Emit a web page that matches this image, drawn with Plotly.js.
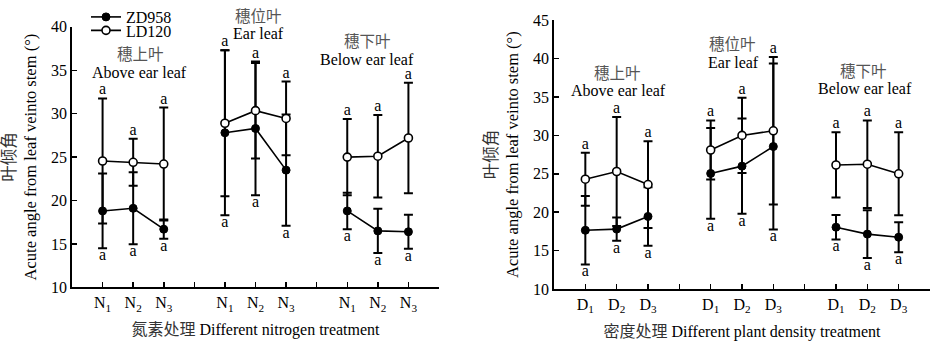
<!DOCTYPE html>
<html><head><meta charset="utf-8">
<script src="https://cdn.plot.ly/plotly-3.0.1.min.js"></script>
<style>body{margin:0;background:#fff}#chart{width:938px;height:346px}</style>
</head><body><div id="chart"></div>
<script>
// ---- data ----
const groupsCN = ["穗上叶", "穗位叶", "穗下叶"];
const groupsEN = ["Above ear leaf", "Ear leaf", "Below ear leaf"];
const nLabels = ["N<sub>1</sub>", "N<sub>2</sub>", "N<sub>3</sub>"];
const dLabels = ["D<sub>1</sub>", "D<sub>2</sub>", "D<sub>3</sub>"];
const seriesNames = ["ZD958", "LD120"];

// nitrogen panel (groups x treatments N1..N3)
const nZD958 = [18.8, 19.1, 16.7, 27.8, 28.3, 23.5, 18.8, 16.5, 16.4];
const nZD958Err = [4.3, 4.15, 1.1, 9.5, 7.7, 6.4, 2.1, 2.55, 1.95];
const nLD120 = [24.55, 24.4, 24.2, 28.9, 30.35, 29.45, 25.0, 25.1, 27.2];
const nLD120Err = [7.2, 2.7, 6.5, 8.4, 5.5, 4.25, 4.4, 4.75, 6.35];
const nLetters = ["a", "a", "a", "a", "a", "a", "a", "a", "a"];
const nLettersLow = ["a", "a", "a", "a", "a", "a", "a", "a", "a"];

// density panel (groups x treatments D1..D3)
const dZD958 = [17.65, 17.8, 19.45, 25.05, 26.0, 28.55, 18.05, 17.15, 16.75];
const dZD958Err = [4.45, 1.5, 3.8, 5.9, 6.2, 10.8, 1.6, 3.1, 1.95];
const dLD120 = [24.3, 25.3, 23.6, 28.1, 30.0, 30.6, 26.15, 26.25, 25.0];
const dLD120Err = [3.45, 7.1, 5.65, 3.85, 4.9, 9.6, 4.25, 5.7, 5.4];
const dLetters = ["a", "a", "a", "a", "a", "a", "a", "a", "a"];
const dLettersLow = ["a", "a", "a", "a", "a", "a", "a", "a", "a"];

// ---- helpers ----
const W = 938, H = 346;
const FONT = "Liberation Serif, 'Times New Roman', 'Noto Sans CJK SC', serif";
const px = v => v / W, py = v => 1 - v / H;
const pos = i => Math.floor(i / 3) * 4 + (i % 3) + 1;   // category slot on axis
const xs = nZD958.map((_, i) => pos(i));
function withGaps(arr) {
  const X = [], Y = [];
  arr.forEach((v, i) => { if (i > 0 && i % 3 === 0) { X.push(null); Y.push(null); } X.push(pos(i)); Y.push(v); });
  return {X, Y};
}
function tickTexts(labels) {
  const t = [];
  for (let k = 1; k <= 12; k++) { const r = k % 4; t.push(r === 0 ? "" : labels[r - 1]); }
  return t;
}

const traces = [];
function panel(xa, ya, zd, zdE, ld, ldE, lettersTop, lettersLow, legendOn) {
  [[zd, zdE], [ld, ldE]].forEach(([m, e]) => {
    traces.push({x: xs, y: m, xaxis: xa, yaxis: ya, type: "scatter", mode: "markers",
      marker: {size: 1, color: "rgba(0,0,0,0)"}, showlegend: false, hoverinfo: "skip",
      error_y: {type: "data", array: e, visible: true, color: "#000", thickness: 2, width: 4.5}});
  });
  const g1 = withGaps(zd), g2 = withGaps(ld);
  traces.push({x: g1.X, y: g1.Y, xaxis: xa, yaxis: ya, type: "scatter", mode: "lines+markers",
    name: seriesNames[0], showlegend: legendOn, legend: "legend",
    line: {color: "#000", width: 1.6}, marker: {size: 8, color: "#000", line: {color: "#000", width: 1}}});
  traces.push({x: g2.X, y: g2.Y, xaxis: xa, yaxis: ya, type: "scatter", mode: "lines+markers",
    name: seriesNames[1], showlegend: legendOn, legend: "legend2",
    line: {color: "#000", width: 1.6}, marker: {size: 8, color: "#fff", line: {color: "#000", width: 1.6}}});
  const top = zd.map((v, i) => Math.max(v + zdE[i], ld[i] + ldE[i]));
  const low = zd.map((v, i) => Math.min(v - zdE[i], ld[i] - ldE[i]));
  traces.push({x: xs, y: top, xaxis: xa, yaxis: ya, type: "scatter", mode: "text", text: lettersTop,
    textposition: "top center", textfont: {family: FONT, size: 16, color: "#000"}, showlegend: false, hoverinfo: "skip"});
  traces.push({x: xs, y: low, xaxis: xa, yaxis: ya, type: "scatter", mode: "text", text: lettersLow,
    textposition: "bottom center", textfont: {family: FONT, size: 16, color: "#000"}, showlegend: false, hoverinfo: "skip"});
}
panel("x", "y", nZD958, nZD958Err, nLD120, nLD120Err, nLetters, nLettersLow, true);
panel("x2", "y2", dZD958, dZD958Err, dLD120, dLD120Err, dLetters, dLettersLow, false);

const tickvals = Array.from({length: 12}, (_, k) => k + 1);
const axBase = {showline: true, linecolor: "#000", linewidth: 1.8, ticks: "inside", ticklen: 5,
  tickwidth: 1.5, tickcolor: "#000", showgrid: false, zeroline: false,
  tickfont: {family: FONT, size: 16, color: "#000"}};

const ytitle = "<span style='color:#333'>叶倾角</span><br>Acute angle from leaf veinto stem (°)";
const layout = {
  width: W, height: H, margin: {l: 0, r: 0, t: 0, b: 0},
  paper_bgcolor: "#fff", plot_bgcolor: "rgba(0,0,0,0)",
  font: {family: FONT, size: 16, color: "#000"},
  xaxis: Object.assign({}, axBase, {domain: [px(72), px(439)], range: [0, 12], tickvals: tickvals,
    ticktext: tickTexts(nLabels), anchor: "y",
    title: {text: "<span style='color:#333'>氮素处理</span> Different nitrogen treatment", font: {family: FONT, size: 16, color: "#000"}, standoff: 11}}),
  yaxis: Object.assign({}, axBase, {domain: [py(287), py(25)], range: [10, 40], dtick: 5, anchor: "x",
    title: {text: ytitle, font: {family: FONT, size: 16.5, color: "#000"}, standoff: 10}}),
  xaxis2: Object.assign({}, axBase, {domain: [px(554), px(930)], range: [0, 12], tickvals: tickvals,
    ticktext: tickTexts(dLabels), anchor: "y2",
    title: {text: "<span style='color:#333'>密度处理</span> Different plant density treatment", font: {family: FONT, size: 16, color: "#000"}, standoff: 11}}),
  yaxis2: Object.assign({}, axBase, {domain: [py(288.7), py(18.3)], range: [10, 45], dtick: 5, anchor: "x2",
    title: {text: ytitle, font: {family: FONT, size: 16.5, color: "#000"}, standoff: 10}}),
  legend: {x: px(86), y: py(-2), xanchor: "left", yanchor: "top", bgcolor: "rgba(0,0,0,0)",
    font: {family: FONT, size: 16, color: "#000"}, itemwidth: 30},
  legend2: {x: px(86), y: py(11.5), xanchor: "left", yanchor: "top", bgcolor: "rgba(0,0,0,0)",
    font: {family: FONT, size: 16, color: "#000"}, itemwidth: 30},
  annotations: [],
  showlegend: true
};
// group labels
const grpPos = [
  [[140, 51], [139, 71]], [[258, 13], [258, 32]], [[367, 38], [367, 58]],
  [[617, 70], [618, 89]], [[732, 41], [733, 61]], [[863, 68], [865, 87]]
];
grpPos.forEach((p, k) => {
  const g = k % 3;
  layout.annotations.push({xref: "paper", yref: "paper", x: px(p[0][0]), y: py(p[0][1]), text: groupsCN[g],
    showarrow: false, font: {family: "Noto Sans CJK SC", size: 15.5, color: "#555"}, xanchor: "center", yanchor: "middle"});
  layout.annotations.push({xref: "paper", yref: "paper", x: px(p[1][0]), y: py(p[1][1]), text: groupsEN[g],
    showarrow: false, font: {family: FONT, size: 16, color: "#000"}, xanchor: "center", yanchor: "middle"});
});
Plotly.newPlot("chart", traces, layout, {staticPlot: true, displayModeBar: false});
</script></body></html>
